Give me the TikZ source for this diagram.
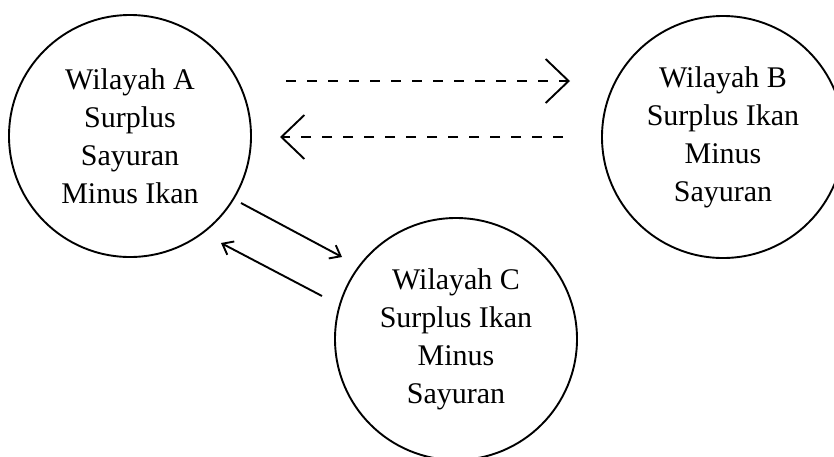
\documentclass[tikz,border=0pt]{standalone}
\usepackage{fontspec}
\setmainfont{Liberation Serif}
\usetikzlibrary{arrows.meta}

\begin{document}
\begin{tikzpicture}[x=1pt, y=-1pt,
    wilayah/.style={circle, draw, line width=1.9pt, minimum size=242pt, inner sep=0pt,
        align=center, font=\fontsize{30}{38}\selectfont},
    flow/.style={line width=1.9pt, -{Straight Barb[length=9.5pt, width=15pt]}},
    trade/.style={line width=1.9pt, dash pattern=on 10pt off 11pt,
        -{Straight Barb[length=23pt, width=44pt]}}]
    \useasboundingbox (0,0) rectangle (834,456);

    % Three regions
    \node[wilayah] (A) at (130,136) {Wilayah A\\Surplus\\Sayuran\\Minus Ikan};
    \node[wilayah] (B) at (723,137) {Wilayah B\\Surplus Ikan\\Minus\\Sayuran};
    \node[wilayah] (C) at (456,339) {Wilayah C\\Surplus Ikan\\Minus\\Sayuran};

    % End points of the exchange arrows
    \coordinate (ab1) at (286,81);
    \coordinate (ab2) at (570,81);
    \coordinate (ba1) at (563,137);
    \coordinate (ba2) at (280,137);
    \coordinate (ac1) at (241,203);
    \coordinate (ac2) at (342,257);
    \coordinate (ca1) at (322,296);
    \coordinate (ca2) at (221,243);

    % Dashed exchange between A and B
    \draw[trade] (ab1) -- (ab2);
    \draw[trade] (ba1) -- (ba2);

    % Solid exchange between A and C
    \draw[flow] (ac1) -- (ac2);
    \draw[flow] (ca1) -- (ca2);
\end{tikzpicture}
\end{document}
